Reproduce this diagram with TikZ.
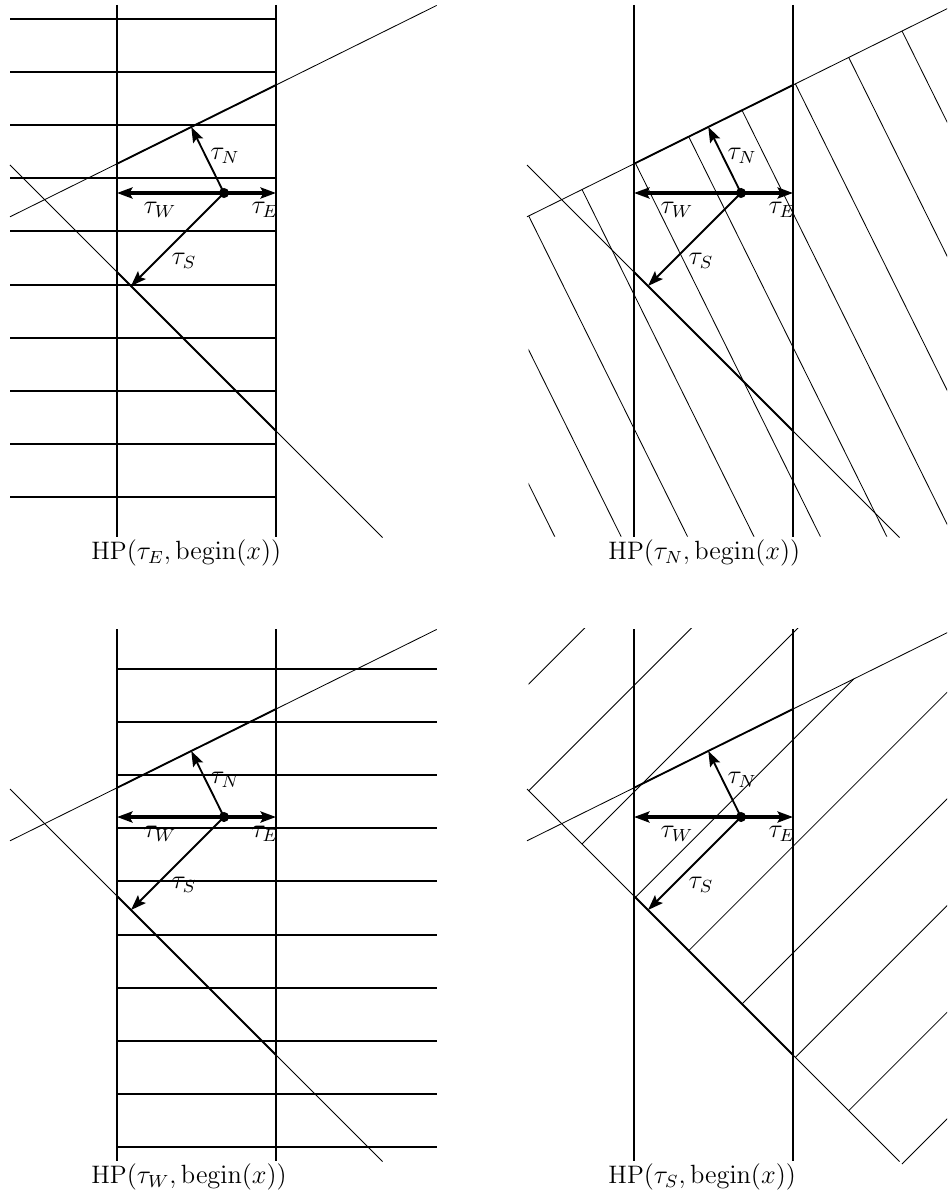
\documentclass[tikz,border=0pt]{standalone}
\usetikzlibrary{calc,arrows.meta}
\tikzset{
  thinline/.style={line width=0.38pt},
  hatchH/.style={line width=0.95pt},
  vleft/.style={line width=1pt},
  vright/.style={line width=1.3pt},
  edgeline/.style={line width=0.85pt},
  arrWE/.style={line width=1.45pt,-{Stealth[length=7pt,width=5pt,inset=1.3pt]}},
  arrNS/.style={line width=0.85pt,-{Stealth[length=7pt,width=5pt,inset=1.3pt]}},
  lbl/.style={inner sep=0pt,font=\fontsize{11.5}{14}\selectfont},
  capnode/.style={inner sep=0pt,font=\fontsize{11.5}{14}\selectfont,anchor=west},
}
\newcommand\drawHP[2]{%
  \coordinate (#1C) at (224,193);
  \coordinate (#1A1) at (10,216.8);
  \coordinate (#1A2) at (436.7,5.43);
  \coordinate (#1B1) at (10,165);
  \coordinate (#1B2) at (382.5,537.5);
  \coordinate (#1LT) at (117,5);
  \coordinate (#1LB) at (117,537);
  \coordinate (#1RT) at (276,5);
  \coordinate (#1RB) at (276,537);
  \coordinate (#1TL) at (117,163.79);
  \coordinate (#1TR) at (276,85.02);
  \coordinate (#1BL) at (117,272);
  \coordinate (#1BR) at (276,431);
  \coordinate (#1W) at (117,193);
  \coordinate (#1E) at (276,193);
  \coordinate (#1N) at ($(#1A1)!(#1C)!(#1A2)$);
  \coordinate (#1S) at ($(#1B1)!(#1C)!(#1B2)$);
  \draw[thinline] (#1A1) -- (#1A2);
  \draw[thinline] (#1B1) -- (#1B2);
  \draw[edgeline] (#1TL) -- (#1TR);
  \draw[edgeline] (#1BL) -- (#1BR);
  \draw[vleft] (#1LT) -- (#1LB);
  \draw[vright] (#1RT) -- (#1RB);
  \draw[arrWE] (#1C) -- (#1W);
  \draw[arrWE] (#1C) -- (#1E);
  \draw[arrNS] (#1C) -- (#1N);
  \draw[arrNS] (#1C) -- (#1S);
  \fill (#1C) circle[radius=2.3pt];
  \node[lbl] (#1tN) at (225,156) {$\tau_N$};
  \node[lbl] (#1tW) at (160,210) {$\tau_W$};
  \node[lbl] (#1tE) at (265,210) {$\tau_E$};
  \node[lbl] (#1tS) at (184,261) {$\tau_S$};
  \node[capnode] (#1cap) at (91,553) {HP$(\tau_{#2},\mathrm{begin}(x))$};
}
\begin{document}
\begin{tikzpicture}[x=0.455pt,y=-0.455pt]
\useasboundingbox (0,0) rectangle (947,1197);
\begin{scope}
\clip (0,0) rectangle (947,1197);
% ---------- panel 1: HP(tau_E) ----------
\begin{scope}
  \foreach \k in {0,...,9} {
    \draw[hatchH] (10,18.6+53.2*\k) -- (276,18.6+53.2*\k);
  }
  \drawHP{pa}{E}
\end{scope}
% ---------- panel 2: HP(tau_N) ----------
\begin{scope}[shift={(517,0)}]
  \begin{scope}
    \clip (11.7,215.96) -- (440,3.78) -- (440,536.5) -- (11.7,536.5) -- cycle;
    \foreach \k in {-2,...,7} {
      \pgfmathsetmacro\xk{11.7+53.33*\k}
      \pgfmathsetmacro\yk{216.8-0.4954*(\xk-10)}
      \draw[thinline] (\xk-49.54,\yk-100) -- (\xk+297.24,\yk+600);
    }
  \end{scope}
  \drawHP{pb}{N}
\end{scope}
% ---------- panel 3: HP(tau_W) ----------
\begin{scope}[shift={(0,624)}]
  \foreach \k in {0,...,9} {
    \draw[hatchH] (117,44.6+53.2*\k) -- (436.7,44.6+53.2*\k);
  }
  \drawHP{pc}{W}
\end{scope}
% ---------- panel 4: HP(tau_S) ----------
\begin{scope}[shift={(517,624)}]
  \begin{scope}
    \clip (11.7,4.1) -- (440,4.1) -- (440,595) -- (11.7,166.7) -- cycle;
    \foreach \k in {-1,0,1,3,4,5,6,7} {
      \pgfmathsetmacro\xk{11.7+53.33*\k}
      \pgfmathsetmacro\yk{\xk+155}
      \draw[thinline] (\xk,\yk) -- (\xk+600,\yk-600);
    }
    \draw[thinline] (118.36,273.36) -- (336.6,55.1);
  \end{scope}
  \drawHP{pd}{S}
\end{scope}
\end{scope}
\end{tikzpicture}
\end{document}
